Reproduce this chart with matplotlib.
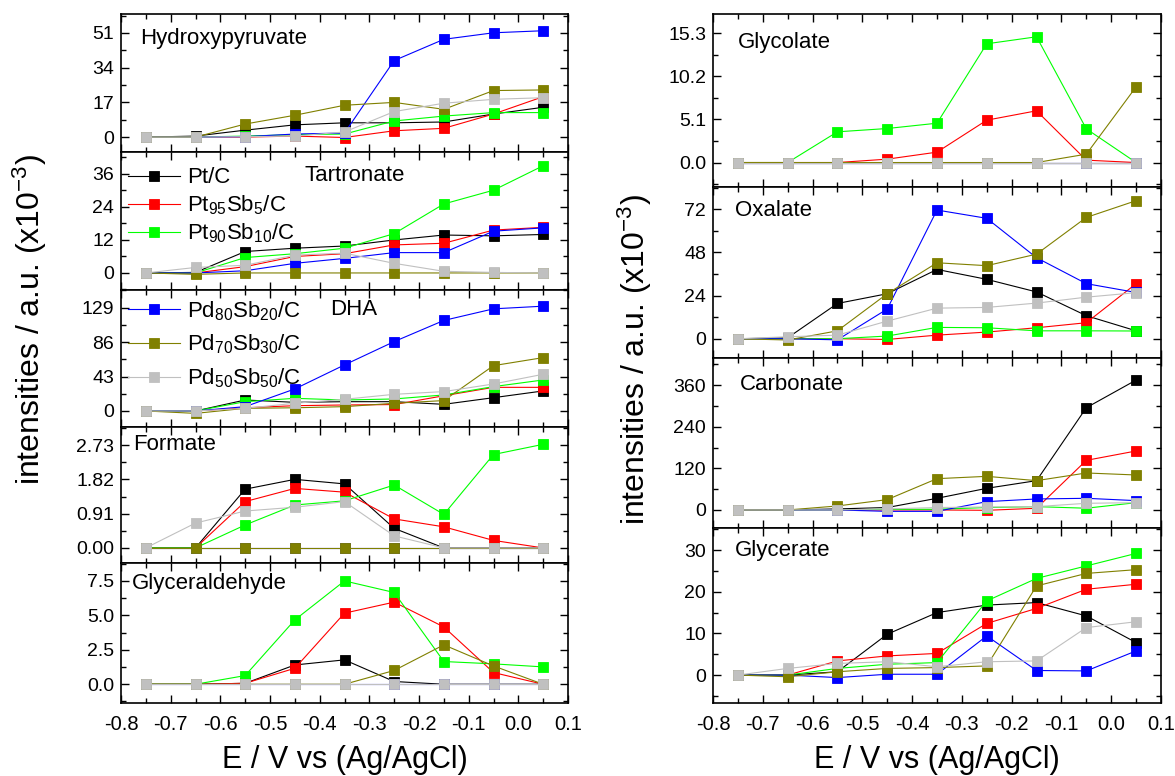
import matplotlib
matplotlib.use('Agg')
import matplotlib.pyplot as plt
from matplotlib.ticker import FixedLocator, FixedFormatter, AutoMinorLocator, NullFormatter
from matplotlib import font_manager

# ---------------- data ----------------
E = [-0.75, -0.65, -0.55, -0.45, -0.35, -0.25, -0.15, -0.05, 0.05]

SERIES = ['Pt/C', 'Pt$_{95}$Sb$_{5}$/C', 'Pt$_{90}$Sb$_{10}$/C',
          'Pd$_{80}$Sb$_{20}$/C', 'Pd$_{70}$Sb$_{30}$/C', 'Pd$_{50}$Sb$_{50}$/C']
COLORS = ['#000000', '#FF0000', '#00FF00', '#0000FF', '#808000', '#C0C0C0']

# order of each list: Pt/C, Pt95Sb5, Pt90Sb10, Pd80Sb20, Pd70Sb30, Pd50Sb50
hydroxypyruvate = [
    [0, 0.5, 3.4, 6.0, 7.0, 7.0, 7.4, 11.3, 14.6],
    [0, 0, 0, 0.5, -0.2, 3.1, 4.3, 11.3, 19.8],
    [0, 0, 0.5, 1.2, 1.5, 7.9, 10.3, 12.0, 12.0],
    [0, 0, 0.2, 1.5, 2.0, 37.5, 47.9, 51.1, 52.1],
    [0, 0, 6.4, 10.7, 15.6, 17.0, 13.6, 22.8, 23.1],
    [0, 0, 0.2, 0.5, 2.5, 12.5, 16.6, 18.5, 19.3],
]
tartronate = [
    [0, 0.2, 7.8, 9.0, 9.8, 12.0, 13.8, 13.5, 14.0],
    [0, 0, 2.3, 6.0, 7.0, 10.2, 10.8, 15.6, 16.6],
    [0, 0, 5.6, 7.0, 9.0, 14.3, 25.1, 30.1, 39.0],
    [0, 0, 0.8, 3.5, 5.3, 7.4, 7.4, 15.2, 16.4],
    [0, -0.5, 0, 0, 0, 0, 0, 0, 0],
    [0, 2.0, 2.8, 6.5, 7.2, 3.5, 0.6, 0.2, 0],
]
dha = [
    [0, 0, 13.7, 10.8, 11.6, 11.6, 8.3, 16.6, 25.0],
    [0, 0, 4.0, 6.6, 7.5, 8.0, 19.0, 29.5, 29.5],
    [0, 0, 11.6, 15.8, 13.7, 15.0, 20.0, 30.4, 38.7],
    [0, 0, 5.4, 27.5, 57.5, 86.6, 113.0, 127.5, 130.8],
    [0, -3.0, 3.3, 4.0, 5.4, 9.6, 13.0, 56.6, 66.6],
    [0, 0, 3.3, 9.6, 14.6, 20.8, 24.2, 33.7, 45.8],
]
formate = [
    [0, 0, 1.56, 1.82, 1.70, 0.52, 0, 0, 0],
    [0, 0, 1.23, 1.58, 1.48, 0.77, 0.56, 0.20, 0],
    [0, 0, 0.61, 1.14, 1.25, 1.67, 0.89, 2.48, 2.75],
    [0, 0, 0, 0, 0, 0, 0, 0, 0],
    [0, 0, 0, 0, 0, 0, 0, 0, 0],
    [0, 0.66, 0.98, 1.08, 1.23, 0.32, 0, 0, 0],
]
glyceraldehyde = [
    [0, 0, 0.07, 1.40, 1.77, 0.20, 0, 0, 0],
    [0, 0, 0.07, 1.16, 5.16, 5.96, 4.16, 0.85, 0],
    [0, 0, 0.63, 4.67, 7.50, 6.66, 1.65, 1.48, 1.26],
    [0, 0, 0, 0, 0, 0, 0, 0, 0],
    [0, 0, 0, 0, 0, 1.00, 2.86, 1.33, 0],
    [0, 0, 0, 0, 0, 0, 0, 0, 0],
]
glycolate = [
    [0, 0, 0, 0, 0, 0, 0, 0, 0],
    [0, 0, 0, 0.40, 1.23, 5.02, 6.13, 0.28, 0],
    [0, 0, 3.64, 4.03, 4.66, 14.07, 14.90, 3.99, 0],
    [0, 0, 0, 0, 0, 0, 0, 0, 0],
    [0, 0, 0, 0, 0, 0, 0, 0.99, 8.97],
    [0, 0, 0, 0, 0, 0, 0, 0, 0],
]
oxalate = [
    [0, 0.5, 19.6, 25.0, 38.5, 33.0, 26.0, 12.8, 4.4],
    [0, 0, 0, -0.4, 2.0, 3.7, 6.1, 8.9, 30.6],
    [0, 0, 0, 1.5, 6.3, 6.1, 4.4, 4.4, 4.3],
    [0, 0, -0.6, 16.5, 71.5, 66.9, 45.0, 30.6, 25.7],
    [0, -0.7, 4.4, 25.0, 42.2, 40.6, 47.0, 67.4, 76.7],
    [0, 1.1, 2.0, 9.8, 17.0, 17.4, 19.8, 23.1, 25.6],
]
carbonate = [
    [0, 0, 3, 7, 33.6, 62.4, 84.5, 294.7, 374.4],
    [0, 0, 0, 0, 0, -1, 4.8, 143, 170],
    [0, 0, 0, 2, 2, 7, 9.6, 5, 21],
    [0, 0, 0, -4, -4, 24, 31.7, 33.6, 26.9],
    [0, 0, 11.5, 29.8, 90.2, 96.9, 84.5, 106.6, 100.8],
    [0, 0, 0, 3, 7, 8.6, 9.6, 19.2, 21],
]
glycerate = [
    [0, 0, 0.8, 9.8, 15.0, 16.8, 17.4, 14.2, 7.8],
    [0, 0, 3.4, 4.6, 5.2, 12.4, 16.0, 20.6, 21.8],
    [0, 0, 1.6, 2.6, 3.0, 17.8, 23.2, 26.2, 29.2],
    [0, 0, -0.6, 0.2, 0.2, 9.4, 1.1, 1.0, 5.8],
    [0, -0.4, 0.8, 1.6, 1.8, 2.2, 21.4, 24.4, 25.3],
    [0, 1.6, 2.8, 3.2, 2.0, 3.2, 3.4, 11.4, 12.8],
]

XTICKS = [-0.8, -0.7, -0.6, -0.5, -0.4, -0.3, -0.2, -0.1, 0.0, 0.1]
XTICKLABELS = ['-0.8', '-0.7', '-0.6', '-0.5', '-0.4', '-0.3', '-0.2', '-0.1', '0.0', '0.1']

LEFT_PANELS = [
    ('Hydroxypyruvate', hydroxypyruvate, [0, 17, 34, 51], ['0', '17', '34', '51'], (-7.3, 60.3)),
    ('Tartronate', tartronate, [0, 12, 24, 36], ['0', '12', '24', '36'], (-6.2, 44.0)),
    ('DHA', dha, [0, 43, 86, 129], ['0', '43', '86', '129'], (-20.0, 151.0)),
    ('Formate', formate, [0, 0.91, 1.82, 2.73], ['0.00', '0.91', '1.82', '2.73'], (-0.40, 3.21)),
    ('Glyceraldehyde', glyceraldehyde, [0, 2.5, 5.0, 7.5], ['0.0', '2.5', '5.0', '7.5'], (-1.36, 8.8)),
]
RIGHT_PANELS = [
    ('Glycolate', glycolate, [0, 5.1, 10.2, 15.3], ['0.0', '5.1', '10.2', '15.3'], (-2.9, 17.6)),
    ('Oxalate', oxalate, [0, 24, 48, 72], ['0', '24', '48', '72'], (-10.7, 84.3)),
    ('Carbonate', carbonate, [0, 120, 240, 360], ['0', '120', '240', '360'], (-52, 438)),
    ('Glycerate', glycerate, [0, 10, 20, 30], ['0', '10', '20', '30'], (-6.7, 35.3)),
]

# ---------------- style ----------------
names = {f.name for f in font_manager.fontManager.ttflist}
NARROW = 'Liberation Sans Narrow' if 'Liberation Sans Narrow' in names else 'Liberation Sans'
plt.rcParams['font.family'] = ['Liberation Sans', 'DejaVu Sans']
plt.rcParams['mathtext.default'] = 'regular'

W, H = 1175, 776
fig = plt.figure(figsize=(W / 100, H / 100), dpi=100)

LEFT_X = (121, 568)
RIGHT_X = (713, 1161)
LEFT_Y = [14, 152, 290, 427, 563, 703]
RIGHT_Y = [14, 187, 358, 528, 703]

TITLE_POS_L = [(0.043, 0.826), (0.41, 0.833), (0.468, 0.861), (0.027, 0.868), (0.025, 0.857)]
TITLE_POS_R = [(0.056, 0.838), (0.049, 0.86), (0.06, 0.847), (0.049, 0.874)]


def make_axes(xr, ys, panels, tpos):
    axes = []
    n = len(panels)
    for i, (name, data, yt, ytl, ylim) in enumerate(panels):
        top, bot = ys[i], ys[i + 1]
        ax = fig.add_axes([xr[0] / W, 1 - bot / H, (xr[1] - xr[0]) / W, (bot - top) / H])
        for k in range(6):
            ax.plot(E, data[k], '-s', color=COLORS[k], lw=0.8, ms=7.2,
                    mec=COLORS[k], mew=0.6, label=SERIES[k])
        ax.set_xlim(-0.8, 0.1)
        ax.set_ylim(*ylim)
        ax.xaxis.set_major_locator(FixedLocator(XTICKS))
        ax.xaxis.set_minor_locator(AutoMinorLocator(2))
        ax.yaxis.set_major_locator(FixedLocator(yt))
        ax.yaxis.set_major_formatter(FixedFormatter(ytl))
        ax.yaxis.set_minor_locator(AutoMinorLocator(2))
        ax.tick_params(which='both', direction='in', top=True, right=True, width=1.0)
        ax.tick_params(which='major', length=6)
        ax.tick_params(which='minor', length=3.5)
        ax.tick_params(axis='y', labelsize=14, pad=5)
        if i == n - 1:
            ax.xaxis.set_major_formatter(FixedFormatter(XTICKLABELS))
            for lab in ax.get_xticklabels():
                lab.set_fontfamily(NARROW)
            ax.tick_params(axis='x', labelsize=14.5, pad=9)
        else:
            ax.xaxis.set_major_formatter(NullFormatter())
        for sp in ax.spines.values():
            sp.set_linewidth(1.2)
        ax.text(tpos[i][0], tpos[i][1], name, transform=ax.transAxes,
                fontsize=16, va='center', ha='left')
        axes.append(ax)
    return axes


axL = make_axes(LEFT_X, LEFT_Y, LEFT_PANELS, TITLE_POS_L)
axR = make_axes(RIGHT_X, RIGHT_Y, RIGHT_PANELS, TITLE_POS_R)

h, l = axL[1].get_legend_handles_labels()
leg1 = axL[1].legend(h[:3], l[:3], loc='upper left', bbox_to_anchor=(-0.014, 0.985),
                     frameon=False, fontsize=16, handlelength=2.35, handletextpad=0.3,
                     labelspacing=0.22, borderaxespad=0.2)
h, l = axL[2].get_legend_handles_labels()
leg2 = axL[2].legend(h[3:], l[3:], loc='upper left', bbox_to_anchor=(-0.014, 1.03),
                     frameon=False, fontsize=16, handlelength=2.35, handletextpad=0.3,
                     labelspacing=0.45, borderaxespad=0.2)

ylab = 'intensities / a.u. (x10$^{-3}$)'
fig.text(30 / W, 1 - 320 / H, ylab, rotation=90, va='center', ha='center',
         fontsize=23, fontfamily=NARROW)
fig.text(635 / W, 1 - 360 / H, ylab, rotation=90, va='center', ha='center',
         fontsize=23, fontfamily=NARROW)
fig.text(345 / W, 1 - 760 / H, 'E / V vs (Ag/AgCl)', va='center', ha='center',
         fontsize=22, fontfamily=NARROW)
fig.text(937 / W, 1 - 760 / H, 'E / V vs (Ag/AgCl)', va='center', ha='center',
         fontsize=22, fontfamily=NARROW)

fig.savefig('out.png', dpi=100)
